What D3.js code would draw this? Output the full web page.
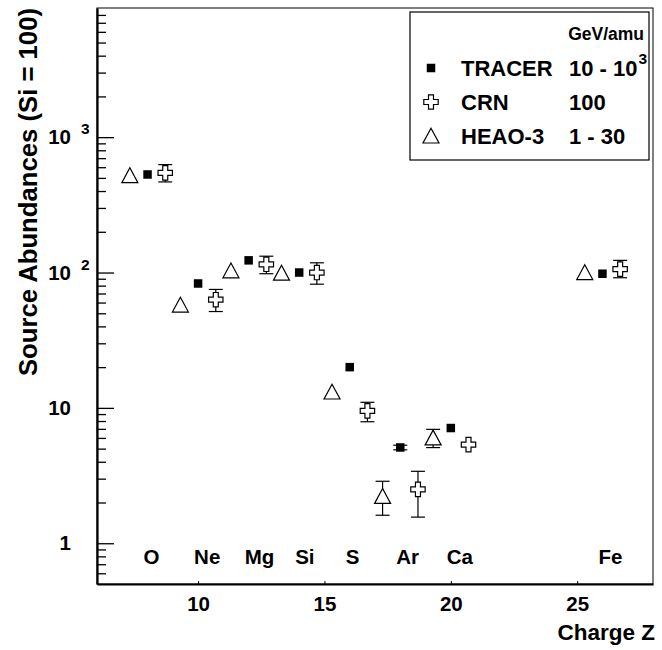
<!DOCTYPE html>
<html><head><meta charset="utf-8">
<script src="https://cdn.jsdelivr.net/npm/d3@7"></script>
<style>
body{margin:0;background:#fff}
svg{display:block}
text{font-family:"Liberation Sans",Arial,Helvetica,sans-serif;font-weight:bold;fill:#000}
</style>
</head><body><svg id="c" width="662" height="650"></svg>
<script>
// ---- data ----
const elements = ["O","Ne","Mg","Si","S","Ar","Ca","Fe"];
const charges  = [8,10,12,14,16,18,20,26];
const tracer   = [530,83,123,100,20,5.1,7.1,98];
const tracerLo = [null,null,null,null,null,4.9,null,null];
const tracerHi = [null,null,null,null,null,5.3,null,null];
const crn      = [545,63,115,100,9.5,2.5,5.35,106];
const crnLo    = [467,51.5,98,82,7.9,1.56,null,91.5];
const crnHi    = [627,75,132,118,11.0,3.4,null,123];
const heao     = [520,57.5,103,99,13.1,2.22,6.0,100];
const heaoLo   = [null,null,null,null,null,1.61,5.09,null];
const heaoHi   = [null,null,null,null,null,2.87,6.94,null];
const xTicks   = [10,15,20,25];
const yMajor   = [1,10,100,1000];
const yTickBase = ["1","10","10","10"];
const yTickExp  = ["","","2","3"];
const legendNames = ["TRACER","CRN","HEAO-3"];
const legendEnergyBase = ["10 - 10","100","1 - 30"];
const legendEnergyExp  = ["3","",""];
const xTitle = "Charge Z";
const yTitle = "Source Abundances (Si = 100)";
const legendHeader = "GeV/amu";

// ---- layout ----
const W = 662, H = 650;
const m = {l:97, r:9, t:8, b:66};
const svg = d3.select("#c");
const x = d3.scaleLinear().domain([6,28]).range([m.l, W-m.r]);
const y = d3.scaleLog().domain([0.5,9000]).range([H-m.b, m.t]);

// frame
svg.append("rect").attr("x",m.l).attr("y",m.t)
  .attr("width",W-m.r-m.l).attr("height",H-m.b-m.t)
  .attr("fill","none").attr("stroke","#000").attr("stroke-width",1);

// y minor ticks
const minor = [];
[0.1,1,10,100,1000].forEach(d=>{for(let k=2;k<=9;k++){const v=+(d*k).toPrecision(3); if(v>0.5&&v<9000&&!yMajor.includes(v)) minor.push(v);}});
const gyMin = svg.append("g").attr("transform",`translate(${m.l},0)`)
  .call(d3.axisLeft(y).tickValues(minor).tickSize(-9).tickSizeOuter(0).tickFormat(""));
gyMin.select(".domain").remove();
const gyMaj = svg.append("g").attr("transform",`translate(${m.l},0)`)
  .call(d3.axisLeft(y).tickValues(yMajor).tickSize(-17).tickSizeOuter(0).tickFormat(""));
gyMaj.select(".domain").attr("stroke-width",2.2);
svg.selectAll(".tick line").attr("stroke-width",1.3);

// y tick labels
yMajor.forEach((v,i)=>{
  svg.append("text").attr("x",71).attr("y",y(v)+7).attr("text-anchor","end")
    .attr("font-size",20.5).text(yTickBase[i]);
  if(yTickExp[i]) svg.append("text").attr("x",81).attr("y",y(v)-3)
    .attr("font-size",15.5).text(yTickExp[i]);
});

// x axis
const gx = svg.append("g").attr("transform",`translate(0,${H-m.b})`)
  .call(d3.axisBottom(x).tickValues(xTicks).tickSize(-3).tickSizeOuter(0).tickPadding(12));
gx.select(".domain").attr("stroke-width",2.2);
gx.selectAll("text").attr("font-size",20.5).attr("font-family","Liberation Sans, Arial, sans-serif").attr("font-weight","bold");

// titles
svg.append("text").attr("x",W-m.r+2).attr("y",640).attr("text-anchor","end")
  .attr("font-size",22.5).text(xTitle);
svg.append("text").attr("transform",`translate(37,${m.t}) rotate(-90)`)
  .attr("text-anchor","end").attr("font-size",25.7).text(yTitle);

// element labels
elements.forEach((e,i)=>{
  svg.append("text").attr("x",x(charges[i])-4).attr("y",y(0.7))
    .attr("font-size",20.5).text(e);
});

// markers
const sq = 8.5;
const triPath = "M0,-7.8L8,7L-8,7Z";
const crossPath = (()=>{const h=7.2,a=2.5;return `M${-a},${-h}H${a}V${-a}H${h}V${a}H${a}V${h}H${-a}V${a}H${-h}V${-a}H${-a}Z`;})();
const cap = 7;

function errBars(g, cx, vals, lo, hi){
  vals.forEach((v,i)=>{
    if(lo[i]==null) return;
    const X = x(cx[i]);
    g.append("line").attr("x1",X).attr("x2",X).attr("y1",y(hi[i])).attr("y2",y(lo[i]))
      .attr("stroke","#000").attr("stroke-width",1.2);
    [hi[i],lo[i]].forEach(b=>g.append("line").attr("x1",X-cap).attr("x2",X+cap)
      .attr("y1",y(b)).attr("y2",y(b)).attr("stroke","#000").attr("stroke-width",1.2));
  });
}
const gData = svg.append("g");
const zH = charges.map(z=>z-0.7), zT = charges.slice(), zC = charges.map(z=>z+0.7);
errBars(gData, zH, heao, heaoLo, heaoHi);
errBars(gData, zT, tracer, tracerLo, tracerHi);
errBars(gData, zC, crn, crnLo, crnHi);

heao.forEach((v,i)=>gData.append("path").attr("d",triPath)
  .attr("transform",`translate(${x(zH[i])},${y(v)})`)
  .attr("fill","#fff").attr("stroke","#000").attr("stroke-width",1.2));
tracer.forEach((v,i)=>gData.append("rect").attr("x",x(zT[i])-sq/2).attr("y",y(v)-sq/2)
  .attr("width",sq).attr("height",sq).attr("fill","#000"));
crn.forEach((v,i)=>gData.append("path").attr("d",crossPath)
  .attr("transform",`translate(${x(zC[i])},${y(v)})`)
  .attr("fill","#fff").attr("stroke","#000").attr("stroke-width",1.2));

// legend
const L = {x:410, y:12, w:239, h:148};
const gl = svg.append("g");
gl.append("rect").attr("x",L.x).attr("y",L.y).attr("width",L.w).attr("height",L.h)
  .attr("fill","#fff").attr("stroke","#000").attr("stroke-width",1.2);
gl.append("text").attr("x",L.x+L.w-5).attr("y",L.y+28).attr("text-anchor","end")
  .attr("font-size",17.5).text(legendHeader);
const rowY = [68,102,136];
legendNames.forEach((n,i)=>{
  const cy = rowY[i];
  if(i===0) gl.append("rect").attr("x",431-sq/2).attr("y",cy-sq/2).attr("width",sq).attr("height",sq).attr("fill","#000");
  if(i===1) gl.append("path").attr("d",crossPath).attr("transform",`translate(431,${cy})`).attr("fill","#fff").attr("stroke","#000").attr("stroke-width",1.2);
  if(i===2) gl.append("path").attr("d",triPath).attr("transform",`translate(431,${cy})`).attr("fill","#fff").attr("stroke","#000").attr("stroke-width",1.2);
  gl.append("text").attr("x",461).attr("y",cy+8).attr("font-size",22).text(n);
  const t = gl.append("text").attr("x",569).attr("y",cy+8).attr("font-size",22).text(legendEnergyBase[i]);
  if(legendEnergyExp[i]) gl.append("text").attr("x",569+ (t.node().getComputedTextLength())+1).attr("y",cy-4)
    .attr("font-size",15.5).text(legendEnergyExp[i]);
});
</script>
</body></html>
